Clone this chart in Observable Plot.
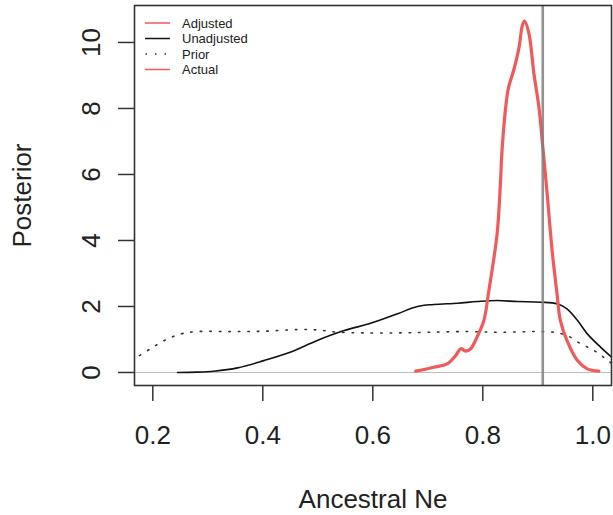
<!DOCTYPE html>
<html>
<head>
<meta charset="utf-8">
<script src="https://cdn.jsdelivr.net/npm/d3@7"></script>
<script src="https://cdn.jsdelivr.net/npm/@observablehq/plot@0.6"></script>
<style>
  html, body { margin: 0; padding: 0; background: #fff; }
</style>
</head>
<body>
<div id="chart"></div>
<script>
// ---- data ----
const adjustedX = [0.678,0.711,0.735,0.751,0.760,0.769,0.778,0.790,0.802,0.811,0.826,0.832,0.835,0.843,0.847,0.856,0.866,0.872,0.876,0.884,0.893,0.902,0.908,0.917,0.926,0.935,0.941,0.953,0.972,0.990,1.011];
const adjustedY = [0.04,0.16,0.26,0.52,0.72,0.65,0.72,1.09,1.58,2.48,4.20,5.72,6.73,8.24,8.65,9.15,9.86,10.52,10.65,10.26,9.05,8.04,7.03,5.42,3.70,2.38,1.58,0.97,0.36,0.11,0.04];

const unadjustedX = [0.245,0.280,0.311,0.354,0.402,0.451,0.499,0.548,0.596,0.645,0.681,0.711,0.754,0.790,0.826,0.863,0.905,0.935,0.953,0.972,0.990,1.014,1.040];
const unadjustedY = [0.00,0.01,0.04,0.14,0.36,0.62,0.97,1.27,1.49,1.78,2.00,2.06,2.10,2.15,2.18,2.15,2.13,2.08,1.93,1.58,1.17,0.77,0.38];

const priorX = [0.160,0.172,0.196,0.221,0.251,0.281,0.342,0.402,0.463,0.499,0.536,0.584,0.645,0.705,0.772,0.832,0.893,0.929,0.953,0.978,1.002,1.023,1.040];
const priorY = [0.40,0.48,0.72,0.97,1.17,1.24,1.24,1.25,1.30,1.29,1.22,1.20,1.20,1.22,1.24,1.22,1.24,1.22,1.12,0.87,0.67,0.42,0.20];

const actualNe = 0.909;

const xTicks = [0.2, 0.4, 0.6, 0.8, 1.0];
const yTicks = [0, 2, 4, 6, 8, 10];
const legendLabels = ["Adjusted", "Unadjusted", "Prior", "Actual"];
const xLabel = "Ancestral Ne";
const yLabel = "Posterior";

// ---- build tables ----
const adjusted = adjustedX.map((x, i) => ({x, y: adjustedY[i]}));
const unadjusted = unadjustedX.map((x, i) => ({x, y: unadjustedY[i]}));
const prior = priorX.map((x, i) => ({x, y: priorY[i]}));

const RED = "#f15a5a";
const legendStyle = {
  "Adjusted":   {stroke: RED, dash: null},
  "Unadjusted": {stroke: "#111", dash: null},
  "Prior":      {stroke: "#333", dash: "1.5,8"},
  "Actual":     {stroke: RED, dash: null}
};

function legendMark(index, scales, values, dim) {
  const g = d3.create("svg:g")
    .attr("font-family", "'Liberation Sans', Arial, Helvetica, sans-serif")
    .attr("font-size", 13)
    .attr("text-anchor", "start")
    .attr("fill", "#222");
  legendLabels.forEach((name, i) => {
    const y = dim.marginTop + 18 + i * 15.5;
    const x0 = dim.marginLeft + 11;
    const s = legendStyle[name];
    const ln = g.append("line")
      .attr("x1", x0).attr("x2", x0 + 25)
      .attr("y1", y).attr("y2", y)
      .attr("stroke", s.stroke).attr("stroke-width", 1.5);
    if (s.dash) ln.attr("stroke-dasharray", s.dash).attr("stroke-dashoffset", -0.5);
    g.append("text")
      .attr("x", x0 + 37).attr("y", y).attr("dy", "0.35em")
      .attr("text-anchor", "start")
      .text(name);
  });
  return g.node();
}

const chart = Plot.plot({
  width: 613,
  height: 515,
  marginLeft: 134,
  marginRight: 2,
  marginTop: 5,
  marginBottom: 130,
  style: {
    fontFamily: "'Liberation Sans', Arial, Helvetica, sans-serif",
    fontSize: "26px",
    color: "#222",
    background: "#fff",
    overflow: "visible"
  },
  x: {domain: [0.1667, 1.034]},
  y: {domain: [-0.394, 11.12]},
  marks: [
    Plot.ruleY([0], {stroke: "#bdbdbd", strokeWidth: 1.2}),
    Plot.line(prior, {x: "x", y: "y", stroke: "#333", strokeWidth: 1.6, strokeDasharray: "1.5,8", curve: "catmull-rom", clip: true}),
    Plot.line(unadjusted, {x: "x", y: "y", stroke: "#111", strokeWidth: 1.6, curve: "catmull-rom", clip: true}),
    Plot.line(adjusted, {x: "x", y: "y", stroke: RED, strokeWidth: 3.2, curve: "catmull-rom", clip: true}),
    Plot.ruleX([actualNe], {stroke: "#7f7f7f", strokeWidth: 2.6, strokeOpacity: 0.85}),
    Plot.axisX({
      ticks: xTicks, tickSize: 16, tickPadding: 24, tickFormat: d3.format(".1f"),
      stroke: "#333", strokeWidth: 1.5,
      label: xLabel, labelAnchor: "center", labelArrow: "none", labelOffset: 122
    }),
    Plot.axisY({
      ticks: yTicks, tickSize: 16, tickPadding: 19, tickRotate: -90, tickFormat: d3.format("d"),
      stroke: "#333", strokeWidth: 1.5,
      label: yLabel, labelAnchor: "center", labelArrow: "none", labelOffset: 122
    }),
    Plot.frame({stroke: "#333", strokeWidth: 1.6}),
    legendMark
  ]
});

document.getElementById("chart").appendChild(chart);
</script>
</body>
</html>
